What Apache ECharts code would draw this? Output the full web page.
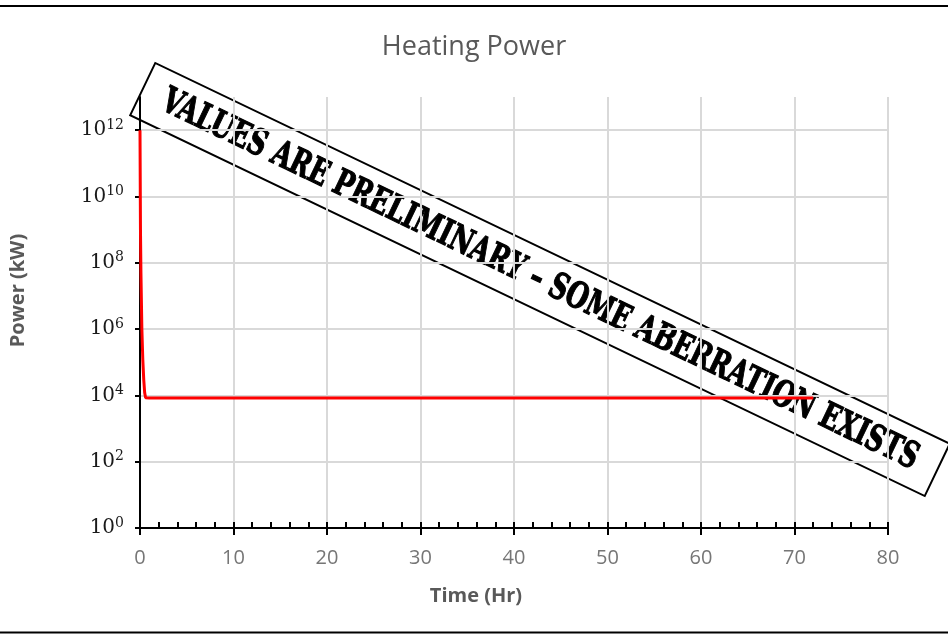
<!DOCTYPE html>
<html>
<head>
<meta charset="utf-8">
<script src="https://cdn.jsdelivr.net/npm/echarts@6/dist/echarts.min.js"></script>
<style>
  html, body { margin: 0; padding: 0; background: #ffffff; }
  #chart { width: 948px; height: 634px; }
</style>
</head>
<body>
<div id="chart"></div>
<script>
// Heating power over time (kW, log scale)
const timeHr  = [0, 0.05, 0.1, 0.2, 0.3, 0.4, 0.5, 0.6, 0.7, 1, 10, 20, 30, 40, 50, 60, 70, 72];
const powerKW = [1e12, 1e9, 5e7, 1e6, 1.2e5, 3e4, 1.2e4, 8.5e3, 8.3e3, 8.3e3, 8.3e3, 8.3e3, 8.3e3, 8.3e3, 8.3e3, 8.3e3, 8.3e3, 8.3e3];

// Axis ticks
const timeTicks  = [0, 10, 20, 30, 40, 50, 60, 70, 80];
const powerTicks = [1, 1e2, 1e4, 1e6, 1e8, 1e10, 1e12];

const chartTitle = 'Heating Power';
const xName = 'Time (Hr)';
const yName = 'Power (kW)';
const stampText = 'VALUES ARE PRELIMINARY \u2013 SOME ABERRATION EXISTS';

const sansFont = '"Open Sans", "Liberation Sans", sans-serif';
const serifFont = '"DejaVu Serif", "Liberation Serif", serif';
const stampFont = '"DejaVu Serif", serif';

// Stretch the stamp text to a fixed length along its box
const stampFontSize = 36;
const stampTargetWidth = 835;
const measureCtx = document.createElement('canvas').getContext('2d');
measureCtx.font = 'bold ' + stampFontSize + 'px ' + stampFont;
const stampScaleX = stampTargetWidth / measureCtx.measureText(stampText).width;

const seriesData = timeHr.map((t, i) => [t, powerKW[i]]);

const chart = echarts.init(document.getElementById('chart'), null, { renderer: 'canvas' });

chart.setOption({
  animation: false,
  backgroundColor: '#ffffff',
  title: {
    text: chartTitle,
    left: 'center',
    top: 34,
    padding: [0, 12, 0, 0],
    textStyle: { fontFamily: sansFont, fontSize: 27, fontWeight: 'normal', color: '#595959' }
  },
  grid: { left: 138, right: 60, top: 97, bottom: 106, containLabel: false },
  xAxis: [
    {
      type: 'value',
      min: timeTicks[0],
      max: timeTicks[timeTicks.length - 1],
      interval: 10,
      name: xName,
      nameLocation: 'middle',
      nameGap: 58,
      nameTextStyle: { fontFamily: sansFont, fontSize: 20, fontWeight: 'bold', color: '#595959', padding: [0, 76, 0, 0] },
      axisLine: { show: true, onZero: false, lineStyle: { color: '#000000', width: 2 } },
      axisTick: { show: true, inside: true, length: 6, lineStyle: { color: '#000000', width: 2 } },
      minorTick: { show: true, splitNumber: 5, length: 6, lineStyle: { color: '#000000', width: 2 } },
      axisLabel: { margin: 20, fontFamily: sansFont, fontSize: 20, color: '#767676' },
      splitLine: { show: true, lineStyle: { color: '#d9d9d9', width: 2 } }
    },
    {
      // outer half of the major ticks on the time axis
      type: 'value',
      min: timeTicks[0],
      max: timeTicks[timeTicks.length - 1],
      interval: 10,
      position: 'bottom',
      axisLine: { show: false, onZero: false },
      axisTick: { show: true, inside: false, length: 7, lineStyle: { color: '#000000', width: 2 } },
      axisLabel: { show: false },
      splitLine: { show: false }
    }
  ],
  yAxis: {
    type: 'log',
    logBase: 10,
    min: 1,
    max: 1e13,
    name: yName,
    nameLocation: 'middle',
    nameGap: 112,
    nameRotate: 90,
    nameTextStyle: { fontFamily: sansFont, fontSize: 20, fontWeight: 'bold', color: '#595959', padding: [0, 0, 0, 44] },
    axisLine: { show: true, onZero: false, lineStyle: { color: '#000000', width: 2 } },
    axisTick: { show: true, inside: false, length: 5, customValues: powerTicks, lineStyle: { color: '#000000', width: 2 } },
    axisLabel: {
      customValues: powerTicks,
      margin: 16,
      formatter: function (v) {
        const e = Math.round(Math.log10(v));
        return '{b|10}{s|' + e + '}';
      },
      rich: {
        b: { fontFamily: serifFont, fontSize: 20, color: '#1a1a1a' },
        s: { fontFamily: serifFont, fontSize: 14, color: '#1a1a1a', padding: [0, 0, 10, 0] }
      }
    },
    splitLine: { show: true, lineStyle: { color: '#d9d9d9', width: 2 } }
  },
  series: [
    {
      type: 'line',
      name: 'Heating Power',
      xAxisIndex: 0,
      data: seriesData,
      showSymbol: false,
      smooth: false,
      lineStyle: { color: '#ff0000', width: 3 },
      z: 3
    }
  ],
  graphic: [
    // frame lines
    {
      type: 'line',
      shape: { x1: 0, y1: 6, x2: 948, y2: 6 },
      style: { stroke: '#000000', lineWidth: 2 },
      z: 50
    },
    {
      type: 'line',
      shape: { x1: 0, y1: 632.5, x2: 948, y2: 632.5 },
      style: { stroke: '#000000', lineWidth: 2 },
      z: 50
    },
    // stamp
    {
      type: 'group',
      x: 540,
      y: 279.5,
      rotation: -25.6 * Math.PI / 180,
      z: 100,
      children: [
        {
          type: 'rect',
          shape: { x: -440.5, y: -29, width: 881, height: 58 },
          style: { fill: 'none', stroke: '#000000', lineWidth: 2 }
        },
        {
          type: 'text',
          x: 0,
          y: 1,
          scaleX: stampScaleX,
          style: {
            text: stampText,
            fontFamily: stampFont,
            fontWeight: 'bold',
            fontSize: stampFontSize,
            fill: '#000000',
            stroke: '#000000',
            lineWidth: 1.2,
            align: 'center',
            verticalAlign: 'middle'
          }
        }
      ]
    }
  ]
});
</script>
</body>
</html>
